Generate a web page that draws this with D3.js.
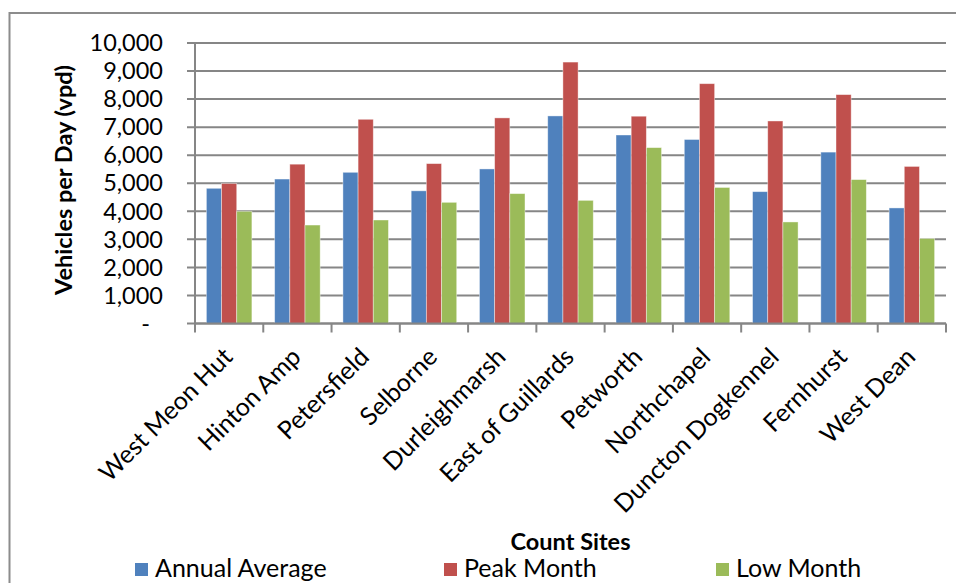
<!DOCTYPE html>
<html>
<head>
<meta charset="utf-8">
<script src="https://cdn.jsdelivr.net/npm/d3@7"></script>
<style>
  body { margin: 0; background: #fff; }
  svg { display: block; font-family: Lato, "Open Sans", sans-serif; }
</style>
</head>
<body>
<div id="chart"></div>
<script>
const sites = ["West Meon Hut", "Hinton Amp", "Petersfield", "Selborne", "Durleighmarsh",
  "East of Guillards", "Petworth", "Northchapel", "Duncton Dogkennel", "Fernhurst", "West Dean"];
const annualAverage = [4820, 5150, 5390, 4730, 5510, 7400, 6720, 6560, 4700, 6110, 4120];
const peakMonth = [4990, 5680, 7280, 5700, 7330, 9320, 7390, 8550, 7220, 8160, 5600];
const lowMonth = [4000, 3510, 3690, 4320, 4630, 4390, 6270, 4850, 3620, 5130, 3030];
const seriesNames = ["Annual Average", "Peak Month", "Low Month"];
const seriesColors = ["#4f81bd", "#c0504d", "#9bbb59"];
const yTicks = [0, 1000, 2000, 3000, 4000, 5000, 6000, 7000, 8000, 9000, 10000];

const width = 956, height = 583;
const plot = {left: 195, right: 946, top: 43, bottom: 323.5};
const gridColor = "#868686";

const svg = d3.select("#chart").append("svg")
  .attr("width", width)
  .attr("height", height);

// outer chart border (runs off the right and bottom of the picture)
svg.append("rect")
  .attr("x", 9.5).attr("y", 13)
  .attr("width", 960).attr("height", 600)
  .attr("fill", "none")
  .attr("stroke", "#8c8c8c")
  .attr("stroke-width", 2);

const x0 = d3.scaleBand().domain(sites).range([plot.left, plot.right]);
const bw = x0.bandwidth();
const x1 = d3.scaleBand().domain(seriesNames).range([bw / 6, bw * 5 / 6]);
const y = d3.scaleLinear().domain([0, 10000]).range([plot.bottom, plot.top]);

// gridlines + left ticks
svg.append("g")
  .selectAll("line")
  .data(yTicks)
  .join("line")
    .attr("x1", plot.left - 8)
    .attr("x2", plot.right)
    .attr("y1", d => y(d))
    .attr("y2", d => y(d))
    .attr("stroke", gridColor)
    .attr("stroke-width", 2);

// y tick labels
svg.append("g")
  .selectAll("text")
  .data(yTicks)
  .join("text")
    .attr("x", d => d === 0 ? 150 : 163)
    .attr("y", d => y(d))
    .attr("dy", "0.35em")
    .attr("text-anchor", "end")
    .style("font-size", "23.5px")
    .text(d => d === 0 ? "-" : d3.format(",")(d));

// bars
const series = [annualAverage, peakMonth, lowMonth];
const groups = svg.append("g")
  .selectAll("g")
  .data(sites)
  .join("g")
    .attr("transform", d => "translate(" + x0(d) + ",0)");

groups.selectAll("rect")
  .data((d, i) => seriesNames.map((s, j) => ({name: s, value: series[j][i], color: seriesColors[j]})))
  .join("rect")
    .attr("x", d => x1(d.name))
    .attr("y", d => y(d.value))
    .attr("width", x1.bandwidth())
    .attr("height", d => y(0) - y(d.value))
    .attr("fill", d => d.color)
    .attr("stroke", "rgba(255,255,255,0.5)")
    .attr("stroke-width", 0.8);

// axes lines
svg.append("line")
  .attr("x1", plot.left).attr("x2", plot.left)
  .attr("y1", plot.top).attr("y2", plot.bottom)
  .attr("stroke", gridColor).attr("stroke-width", 2);

const xTicks = sites.map(d => x0(d)).concat([plot.right]);
svg.append("line")
  .attr("x1", plot.left).attr("x2", plot.right)
  .attr("y1", plot.bottom).attr("y2", plot.bottom)
  .attr("stroke", gridColor).attr("stroke-width", 2);
svg.append("g")
  .selectAll("line")
  .data(xTicks)
  .join("line")
    .attr("x1", d => d).attr("x2", d => d)
    .attr("y1", plot.bottom).attr("y2", plot.bottom + 9)
    .attr("stroke", gridColor)
    .attr("stroke-width", 2);

// rotated category labels
svg.append("g")
  .selectAll("text")
  .data(sites)
  .join("text")
    .attr("transform", d => "translate(" + (x0(d) + bw / 2 + 5) + "," + (plot.bottom + 35) + ")rotate(-45)")
    .attr("text-anchor", "end")
    .style("font-size", "25px")
    .text(d => d);

// axis titles
svg.append("text")
  .attr("transform", "translate(72,180)rotate(-90)")
  .attr("text-anchor", "middle")
  .style("font-size", "23.5px")
  .style("font-weight", "bold")
  .text("Vehicles per Day (vpd)");

svg.append("text")
  .attr("x", (plot.left + plot.right) / 2)
  .attr("y", 550)
  .attr("text-anchor", "middle")
  .style("font-size", "23.5px")
  .style("font-weight", "bold")
  .text("Count Sites");

// legend
const legendX = [135, 444, 716];
const legend = svg.append("g")
  .selectAll("g")
  .data(seriesNames)
  .join("g")
    .attr("transform", (d, i) => "translate(" + legendX[i] + ",563)");

legend.append("rect")
  .attr("width", 13).attr("height", 13)
  .attr("fill", (d, i) => seriesColors[i]);

legend.append("text")
  .attr("x", 20)
  .attr("y", 14)
  .style("font-size", "25px")
  .text(d => d);
</script>
</body>
</html>
